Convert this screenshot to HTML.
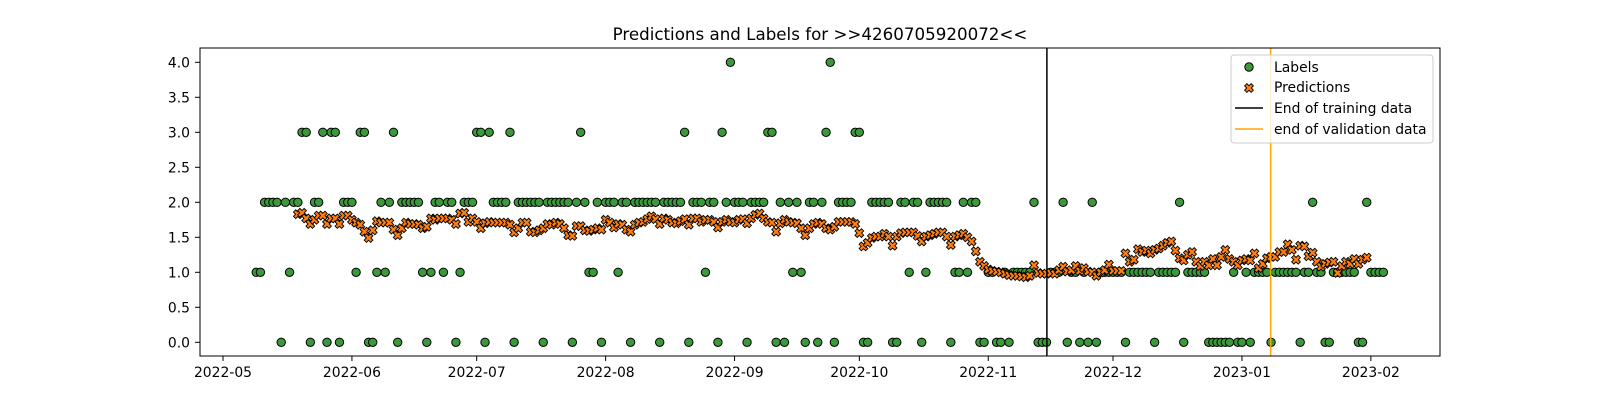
<!DOCTYPE html>
<html><head><meta charset="utf-8"><style>
html,body{margin:0;padding:0;background:#fff;}
svg{display:block;font-family:"DejaVu Sans","Liberation Sans",sans-serif;}
</style></head><body>
<svg id="chart" width="1600" height="400" viewBox="0 0 1600 400" xmlns="http://www.w3.org/2000/svg">
<rect width="1600" height="400" fill="#fff"/>
<text x="820" y="40" text-anchor="middle" font-size="16.7" fill="#000">Predictions and Labels for &gt;&gt;4260705920072&lt;&lt;</text>
<g id="xticks"></g>
<g id="yticks"></g>
<g id="marks"></g>
<rect x="200" y="48" width="1240" height="308" fill="none" stroke="#000" stroke-width="1"/>
<g>
<rect x="1231" y="55" width="202" height="88" rx="3" fill="#fff" fill-opacity="0.8" stroke="#ccc" stroke-width="1"/>
<circle cx="1249" cy="67" r="4.2" fill="#3a9a3a" stroke="#000" stroke-width="1"/>
<text x="1274" y="72" font-size="13.9">Labels</text>
<path transform="translate(1249,88) rotate(45)" d="M-1.6,-4.6L1.6,-4.6L1.6,-1.6L4.6,-1.6L4.6,1.6L1.6,1.6L1.6,4.6L-1.6,4.6L-1.6,1.6L-4.6,1.6L-4.6,-1.6L-1.6,-1.6Z" fill="#ff7f0e" stroke="#000" stroke-width="0.9"/>
<text x="1274" y="92" font-size="13.9">Predictions</text>
<line x1="1235" y1="108" x2="1263" y2="108" stroke="#000" stroke-width="1.5"/>
<text x="1274" y="113" font-size="13.9">End of training data</text>
<line x1="1235" y1="129" x2="1263" y2="129" stroke="#ffa500" stroke-width="1.5"/>
<text x="1274" y="134" font-size="13.9">end of validation data</text>
</g>
</svg>
<script>
// day offsets from 2022-05-01
const labelStartDay = 8;
const labelValues = [
1,1,2,2,2,2,0,2,1,2,
2,3,3,0,2,2,3,0,3,3,
0,2,2,2,1,3,3,0,0,1,
2,1,2,3,0,2,2,2,2,2,
1,0,1,2,2,1,2,2,0,1,
2,2,2,3,3,0,3,2,2,2,
2,3,0,2,2,2,2,2,2,0,
2,2,2,2,2,2,0,2,3,2,
1,1,2,0,2,2,2,1,2,2,
0,2,2,2,2,2,2,0,2,2,
2,2,2,3,0,2,2,2,1,2,
2,0,3,2,4,2,2,2,0,2,
2,2,2,3,3,0,2,0,2,1,
2,1,0,2,2,0,2,3,4,0,
2,2,2,2,3,3,0,0,2,2,
2,2,2,0,0,2,2,1,2,2,
0,1,2,2,2,2,2,0,1,1,
2,1,2,2,0,0,1,1,0,0,
1,0,1,1,1,1,1,2,0,0,
0,1,1,1,2,0,1,1,0,1,
0,2,0,1,1,1,1,1,1,0,
1,1,1,1,1,1,0,1,1,1,
1,1,2,0,1,1,1,1,1,0,
0,0,0,0,0,1,0,0,1,0,
1,1,1,1,0,1,1,1,1,1,
1,0,1,1,2,1,1,0,0,1,
1,1,1,1,1,0,0,2,1,1,
1,1];
const predStartDay = 18;
const predValues = [
1.83,1.85,1.77,1.69,1.75,1.81,1.81,1.69,1.77,1.77,
1.69,1.81,1.81,1.75,1.71,1.68,1.58,1.49,1.60,1.73,
1.71,1.71,1.71,1.61,1.53,1.63,1.71,1.69,1.69,1.68,
1.63,1.65,1.77,1.75,1.77,1.77,1.77,1.75,1.69,1.84,
1.85,1.72,1.77,1.72,1.63,1.70,1.72,1.71,1.71,1.71,
1.71,1.68,1.57,1.63,1.71,1.71,1.58,1.57,1.60,1.63,
1.69,1.68,1.71,1.69,1.63,1.53,1.52,1.66,1.66,1.60,
1.59,1.61,1.63,1.61,1.75,1.71,1.64,1.69,1.68,1.61,
1.58,1.68,1.71,1.72,1.76,1.80,1.76,1.69,1.77,1.75,
1.71,1.70,1.73,1.76,1.68,1.77,1.77,1.72,1.75,1.75,
1.72,1.64,1.72,1.75,1.72,1.71,1.75,1.76,1.70,1.77,
1.82,1.84,1.77,1.72,1.71,1.58,1.70,1.75,1.72,1.71,
1.70,1.63,1.53,1.63,1.69,1.71,1.69,1.63,1.61,1.65,
1.72,1.72,1.72,1.72,1.69,1.56,1.37,1.42,1.49,1.51,
1.51,1.55,1.51,1.38,1.51,1.56,1.57,1.57,1.57,1.52,
1.44,1.51,1.53,1.55,1.57,1.57,1.51,1.39,1.51,1.53,
1.55,1.50,1.44,1.30,1.15,1.09,1.04,1.02,1.01,1.00,
0.98,0.96,0.95,0.95,0.94,0.93,0.95,1.10,0.99,0.98,
0.98,0.99,0.98,1.03,1.08,1.01,1.03,1.09,1.02,1.06,
1.01,1.00,0.95,1.00,1.03,1.11,1.02,1.02,1.02,1.27,
1.15,1.18,1.33,1.29,1.31,1.27,1.32,1.34,1.38,1.42,
1.44,1.31,1.20,1.17,1.25,1.29,1.15,1.09,1.15,1.10,
1.19,1.10,1.22,1.32,1.19,1.15,1.10,1.17,1.19,1.17,
1.27,1.06,1.12,1.20,1.22,1.22,1.29,1.29,1.40,1.32,
1.18,1.38,1.37,1.23,1.28,1.15,1.08,1.12,1.14,1.15,
0.99,1.09,1.15,1.12,1.19,1.12,1.18,1.21];
const xTickDays = [0,31,61,92,123,153,184,214,245,276];
const xTickLabels = ["2022-05","2022-06","2022-07","2022-08","2022-09","2022-10","2022-11","2022-12","2023-01","2023-02"];
const yTickValues = [0,0.5,1,1.5,2,2.5,3,3.5,4];
const yTickLabels = ["0.0","0.5","1.0","1.5","2.0","2.5","3.0","3.5","4.0"];
const trainingEndDay = 198.1;
const validationEndDay = 251.9;

const NS = "http://www.w3.org/2000/svg";
const X0 = 223, PXD = 4.159;
const xS = d => X0 + PXD * d;
const yS = v => 342.3 - 70 * v;
function mk(tag, attrs, parent){const e=document.createElementNS(NS,tag);for(const k in attrs)e.setAttribute(k,attrs[k]);parent.appendChild(e);return e;}

const gx = document.getElementById('xticks');
xTickDays.forEach((d,i)=>{
  const x=xS(d);
  const t=mk('line',{x1:x,y1:356,x2:x,y2:361,stroke:'#000','stroke-width':1},gx);
  
  
  const l=mk('text',{x:x,y:377,'text-anchor':'middle','font-size':13.9},gx);
  l.textContent=xTickLabels[i];
  
  
});
const gy = document.getElementById('yticks');
yTickValues.forEach((v,i)=>{
  const y=yS(v);
  const t=mk('line',{x1:195,y1:y,x2:200,y2:y,stroke:'#000','stroke-width':1},gy);
  
  
  const l=mk('text',{x:190,y:y+5,'text-anchor':'end','font-size':13.9},gy);
  l.textContent=yTickLabels[i];
  
  
});
const gm = document.getElementById('marks');
labelValues.forEach((v,i)=>{
  const c=mk('circle',{cx:xS(labelStartDay+i),cy:yS(v),r:4.2,fill:'#3a9a3a',stroke:'#000','stroke-width':1},gm);
  
  
});
const XP="M-1.6,-4.6L1.6,-4.6L1.6,-1.6L4.6,-1.6L4.6,1.6L1.6,1.6L1.6,4.6L-1.6,4.6L-1.6,1.6L-4.6,1.6L-4.6,-1.6L-1.6,-1.6Z";
predValues.forEach((v,i)=>{
  const p=mk('path',{d:XP,transform:`translate(${xS(predStartDay+i)},${yS(v)}) rotate(45)`,fill:'#ff7f0e',stroke:'#000','stroke-width':0.9},gm);
  
  
});
const tl=mk('line',{x1:xS(trainingEndDay),y1:48,x2:xS(trainingEndDay),y2:356,stroke:'#000','stroke-width':1.5},gm);


const vl=mk('line',{x1:xS(validationEndDay),y1:48,x2:xS(validationEndDay),y2:356,stroke:'#ffa500','stroke-width':1.5},gm);


</script>
</body></html>
